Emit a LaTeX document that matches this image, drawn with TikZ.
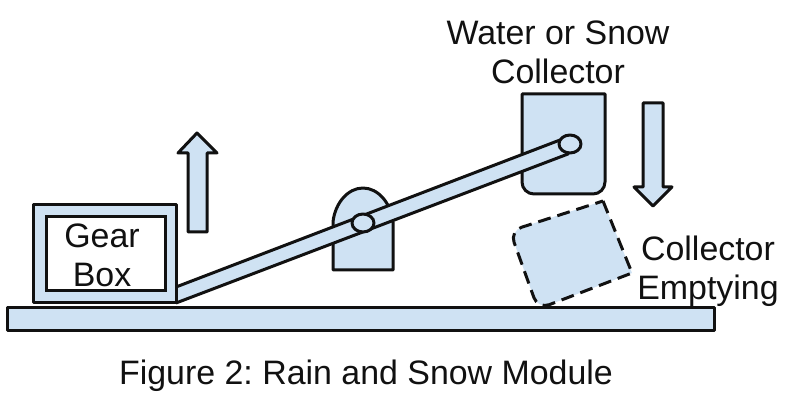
\documentclass[tikz,border=0pt]{standalone}
\usepackage{fontspec}
\setmainfont{Liberation Sans}
\usetikzlibrary{positioning}
\definecolor{Part}{HTML}{CFE2F3}
\definecolor{Ink}{HTML}{111111}
\frenchspacing
\begin{document}
\begin{tikzpicture}[x=1pt,y=-1pt,
    part/.style={draw=Ink,fill=Part,line width=3pt,line join=round},
    lbl/.style={align=center,text=Ink,font=\fontsize{33.9}{39}\selectfont,inner sep=0pt}
  ]
    \useasboundingbox (0,0) rectangle (800,411);
    % base and gear box
    \draw[part] (7,308) rectangle (714,331);
    \draw[part] (522,94) -- (605,94) -- (605,182) arc[start angle=0,end angle=90,radius=12] -- (534,194) arc[start angle=90,end angle=180,radius=12] -- cycle;
    \draw[part] (333,270) -- (333,222) .. controls (335,203) and (348,188) .. (363,188) .. controls (378,188) and (391,203) .. (393,222) -- (393,270) -- cycle;
    \draw[part] (176,287) -- (560,140) -- (568,154) -- (176,303);
    \draw[part] (570,144) ellipse[x radius=11,y radius=9];
    \draw[part] (363,223) ellipse[x radius=11,y radius=9];
    \draw[part] (33,205) rectangle (176,303);
    \draw[draw=Ink,fill=white,line width=3pt] (46,217) rectangle (165,291);
    % motion arrows
    \draw[part] (188,232) -- (188,153) -- (178,153) -- (197,133) -- (217,153) -- (207,153) -- (207,232) -- cycle;
    \draw[part] (643,103) -- (663,103) -- (663,187) -- (672,187) -- (653,206) -- (634,187) -- (643,187) -- cycle;
    \draw[part,dashed,dash pattern=on 13pt off 7pt] (603,201) -- (632,273) [rounded corners=12pt] -- (538,309) -- (510,231) [sharp corners] -- cycle;
    % labels
    \node[lbl] (gear) at (102,255) {Gear\\Box};
    \node[lbl] (water) at (558,52) {Water or Snow\\Collector};
    \node[lbl] (empty) at (708,271) {Collector\\Emptying};
    \node[lbl] (title) at (366,376) {Figure 2: Rain and Snow Module};
  \end{tikzpicture}
\end{document}
